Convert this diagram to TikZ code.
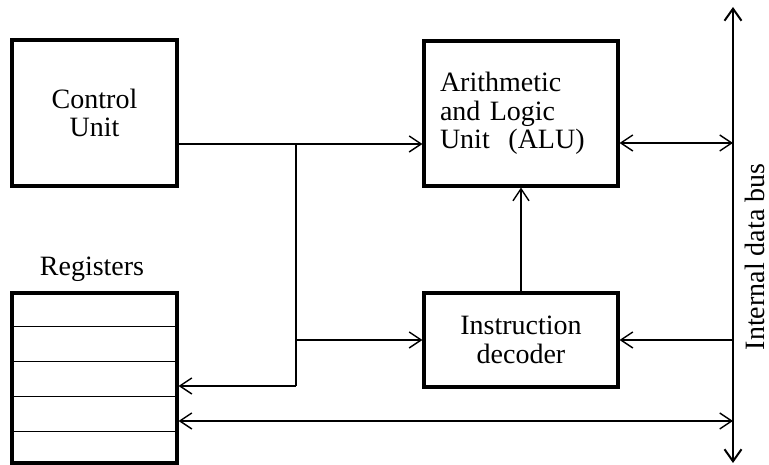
\documentclass[tikz,border=0pt]{standalone}
\usepackage{fontspec}
\setmainfont{Liberation Serif}
\usetikzlibrary{positioning,arrows.meta,calc}
\tikzset{
  unit/.style   = {draw=black, line width=3.2pt, font=\fontsize{28}{28.5}\selectfont,
                   align=center, inner sep=0pt},
  lbl/.style    = {font=\fontsize{28}{28.5}\selectfont},
  flow/.style   = {-{Straight Barb[length=12pt,width=16pt,line width=1.4pt]},
                   black, line width=1.4pt},
  both/.style   = {flow, {Straight Barb[length=12pt,width=16pt,line width=1.4pt]}-{Straight Barb[length=12pt,width=16pt,line width=1.4pt]}},
  wire/.style   = {black, line width=1.4pt},
  row/.style    = {black, line width=1.5pt},
  busl/.style   = {line width=2.3pt, {Straight Barb[length=12pt,width=17pt,line width=2pt]}-{Straight Barb[length=12pt,width=17pt,line width=2pt]}},
}

\begin{document}
\begin{tikzpicture}[x=1pt, y=1pt]
  \useasboundingbox (0,0) rectangle (769,465);

  % ---- units -----------------------------------------------------------
  \node[unit, minimum width=165pt, minimum height=146pt] (cu)  at (94.5,352) {Control\\Unit};
  \node[unit, minimum width=194pt, minimum height=145pt, align=left, text width=162pt]
       (alu) at (521,351.5) {Arithmetic\\and Logic\\Unit\ \ (ALU)};
  \node[unit, minimum width=194pt, minimum height=94pt] (dec) at (521,125) {Instruction\\decoder};
  \node[unit, minimum width=165pt, minimum height=170pt] (reg) at (94.5,87) {};
  \node[lbl, anchor=base] (regl) at (92,189) {Registers};
  \foreach \k in {1,...,4}
    \draw[row] ($(reg.north west)+(0,-35*\k)$) -- ($(reg.north east)+(0,-35*\k)$);

  % ---- internal data bus -----------------------------------------------
  \coordinate (bustop) at (733,458);
  \coordinate (busbot) at (733,2);
  \draw[busl] (busbot) -- (bustop);
  \node[lbl, rotate=90, inner sep=0pt] (busl) at (755,208) {Internal data bus};

  % ---- control lines ---------------------------------------------------
  \coordinate (j1)   at (296,321);
  \coordinate (jreg) at (296,79);
  \draw[flow] (cu.east |- j1) -- (alu.west |- j1);
  \draw[wire] (j1) -- (jreg);
  \draw[flow] (jreg) -- (jreg -| reg.east);
  \draw[flow] (j1 |- dec.west) -- (dec.west);
  \draw[flow] (dec.north) -- (alu.south);

  % ---- bus connections -------------------------------------------------
  \coordinate (abus) at (733,322);
  \coordinate (rbus) at (733,44);
  \draw[both] (abus -| alu.east) -- (abus);
  \draw[flow] (dec.east -| bustop) -- (dec.east);
  \draw[both] (rbus -| reg.east) -- (rbus);
\end{tikzpicture}
\end{document}
